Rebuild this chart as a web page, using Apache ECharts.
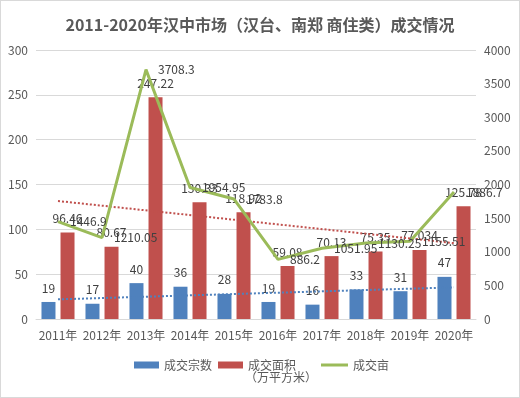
<!DOCTYPE html>
<html>
<head>
<meta charset="utf-8">
<script src="https://cdn.jsdelivr.net/npm/echarts@6/dist/echarts.min.js"></script>
<style>
  html, body { margin: 0; padding: 0; background: #fff; }
  .chart { width: 520px; height: 398px; box-sizing: border-box; border: 1px solid #d9d9d9; }
</style>
</head>
<body>
<div class="chart"></div>
<script>
const years = ['2011年', '2012年', '2013年', '2014年', '2015年', '2016年', '2017年', '2018年', '2019年', '2020年'];
const dealCount = [19, 17, 40, 36, 28, 19, 16, 33, 31, 47];
const dealArea = [96.46, 80.67, 247.22, 130.33, 118.92, 59.08, 70.13, 75.35, 77.034, 125.78];
const dealMu = [1446.9, 1210.05, 3708.3, 1954.95, 1783.8, 886.2, 1051.95, 1130.25, 1155.51, 1886.7];
// trend lines, read at first and last year
const areaTrend = [131.6, null, null, null, null, null, null, null, null, 84.6];
const countTrend = [21.9, null, null, null, null, null, null, null, null, 35.3];

~function () {
  let myChart = echarts.init(document.querySelector('.chart'));
  let font = 'Noto Sans CJK SC';
  let barLabel = { show: true, position: 'top', distance: 8, color: '#404040', fontSize: 12, fontFamily: font };
  let legendText = { color: '#595959', fontSize: 12, fontFamily: font };
  let option = {
    backgroundColor: '#fff',
    animation: false,
    textStyle: { fontFamily: font },
    title: {
      text: '2011-2020年汉中市场（汉台、南郑 商住类）成交情况',
      left: 'center',
      top: 11,
      textStyle: { fontSize: 16, fontWeight: 'bold', color: '#595959', fontFamily: font }
    },
    legend: [
      {
        left: 128,
        top: 353,
        itemGap: 6,
        itemWidth: 25,
        itemHeight: 7,
        textStyle: legendText,
        data: [
          { name: '成交宗数', icon: 'rect' },
          { name: '成交面积', icon: 'rect' }
        ]
      },
      {
        left: 315,
        top: 353,
        itemWidth: 27,
        itemHeight: 7,
        textStyle: legendText,
        data: [
          { name: '成交亩', icon: 'path://M0,0 L0,0 M0,2 L27,2 L27,5 L0,5 Z M0,7 L0,7' }
        ]
      }
    ],
    graphic: [
      {
        type: 'text',
        left: 244,
        top: 370,
        style: { text: '（万平方米）', fill: '#595959', fontSize: 12, fontFamily: font }
      }
    ],
    grid: { left: 35, right: 43, top: 49, bottom: 78 },
    xAxis: {
      type: 'category',
      data: years,
      axisTick: { show: false },
      axisLine: { lineStyle: { color: '#d9d9d9' } },
      axisLabel: { color: '#595959', fontSize: 12, margin: 10, interval: 0 }
    },
    yAxis: [
      {
        type: 'value',
        min: 0,
        max: 300,
        interval: 50,
        axisLabel: { color: '#595959', fontSize: 12, margin: 8 },
        splitLine: { lineStyle: { color: '#d9d9d9' } }
      },
      {
        type: 'value',
        min: 0,
        max: 4000,
        interval: 500,
        axisLabel: { color: '#595959', fontSize: 12, margin: 8, formatter: v => String(v) },
        splitLine: { show: false }
      }
    ],
    series: [
      {
        name: '成交宗数',
        type: 'bar',
        data: dealCount,
        barWidth: 14,
        barGap: '36%',
        itemStyle: { color: '#4f81bd' },
        label: barLabel
      },
      {
        name: '成交面积',
        type: 'bar',
        data: dealArea,
        barWidth: 14,
        itemStyle: { color: '#c0504d' },
        label: barLabel
      },
      {
        name: '成交亩',
        type: 'line',
        yAxisIndex: 1,
        data: dealMu,
        symbol: 'circle',
        symbolSize: 0.1,
        lineStyle: { color: '#9bbb59', width: 3 },
        itemStyle: { color: '#9bbb59' },
        label: { show: true, position: 'right', distance: 12, color: '#404040', fontSize: 12, fontFamily: font },
        z: 5
      },
      {
        name: 'areaTrend',
        type: 'line',
        data: areaTrend,
        connectNulls: true,
        symbol: 'none',
        lineStyle: { color: '#c0504d', width: 2, type: 'dotted' },
        z: 4
      },
      {
        name: 'countTrend',
        type: 'line',
        data: countTrend,
        connectNulls: true,
        symbol: 'none',
        lineStyle: { color: '#4f81bd', width: 2, type: 'dotted' },
        z: 4
      }
    ]
  };
  myChart.setOption(option);
}();
</script>
</body>
</html>
